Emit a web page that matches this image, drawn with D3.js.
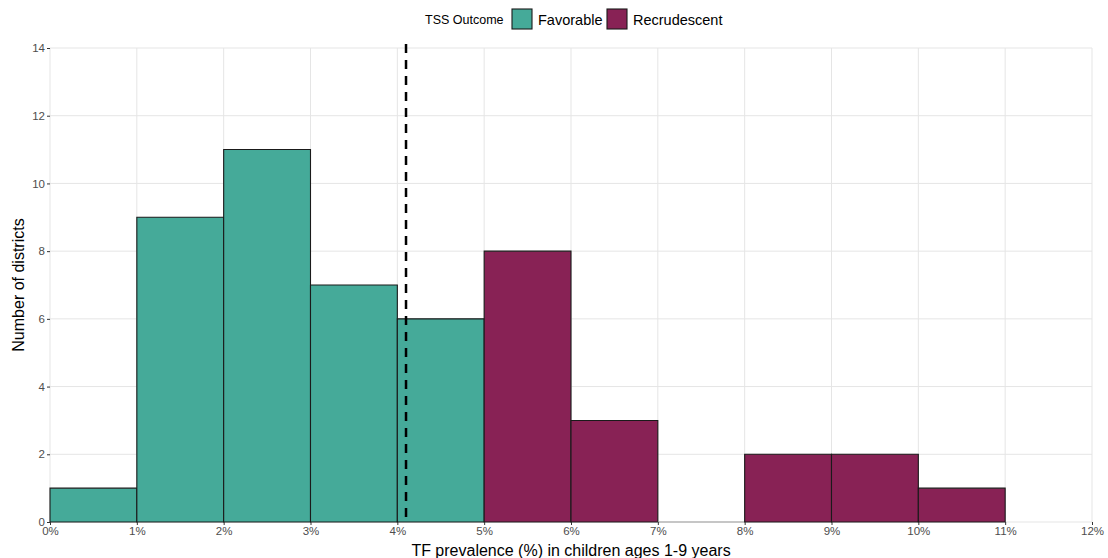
<!DOCTYPE html>
<html><head><meta charset="utf-8">
<script src="https://cdn.jsdelivr.net/npm/d3@7"></script>
<style>body{margin:0;background:#fff;font-family:Arial,"Liberation Sans",sans-serif;}</style>
</head><body>
<svg id="chart" width="1108" height="558"></svg>
<script>
const binStarts = [0,1,2,3,4,5,6,7,8,9,10];
const binCounts = [1,9,11,7,6,8,3,0,2,2,1];
const binOutcome = ["Favorable","Favorable","Favorable","Favorable","Favorable","Recrudescent","Recrudescent","Recrudescent","Recrudescent","Recrudescent","Recrudescent"];
const binWidth = 1;
const outcomes = ["Favorable","Recrudescent"];
const outcomeColors = ["#45AA99","#882255"];
const xTicks = [0,1,2,3,4,5,6,7,8,9,10,11,12];
const yTicks = [0,2,4,6,8,10,12,14];
const thresholdX = 4.1;

const svg = d3.select("#chart");
const m = {l:50, r:16, t:48, b:36};
const W = 1108, H = 558;
const x = d3.scaleLinear().domain([0,12]).range([m.l, W-m.r]);
const y = d3.scaleLinear().domain([0,14]).range([H-m.b, m.t]);
const color = d3.scaleOrdinal().domain(outcomes).range(outcomeColors);

// grid
svg.append("g").selectAll("line").data(xTicks).join("line")
  .attr("x1",d=>x(d)).attr("x2",d=>x(d)).attr("y1",y(0)).attr("y2",y(14))
  .attr("stroke","#e5e5e5").attr("stroke-width",1);
svg.append("g").selectAll("line").data(yTicks).join("line")
  .attr("x1",x(0)).attr("x2",x(12)).attr("y1",d=>y(d)).attr("y2",d=>y(d))
  .attr("stroke","#e5e5e5").attr("stroke-width",1);

// bars (paths so zero-height bins still draw their outline)
svg.append("g").selectAll("path").data(binStarts).join("path")
  .attr("d",(d,i)=>{
    const x0 = x(d), x1 = x(d+binWidth), y0 = y(0), y1 = y(binCounts[i]);
    return `M${x0},${y0}L${x0},${y1}L${x1},${y1}L${x1},${y0}Z`;
  })
  .attr("fill",(d,i)=>color(binOutcome[i]))
  .attr("stroke",(d,i)=>binCounts[i]===0 ? "#999" : "#1a1a1a").attr("stroke-width",1.1);

// threshold
svg.append("line").attr("x1",x(thresholdX)).attr("x2",x(thresholdX))
  .attr("y1",y(14)-4).attr("y2",y(0))
  .attr("stroke","#000").attr("stroke-width",2.5).attr("stroke-dasharray","9,7");

// axes
const xAxis = d3.axisBottom(x).tickValues(xTicks).tickFormat(d=>d+"%").tickSize(3).tickPadding(2);
const gx = svg.append("g").attr("transform",`translate(0,${y(0)})`).call(xAxis);
gx.select(".domain").remove();
gx.selectAll("line").attr("stroke","#333");
gx.selectAll("text").attr("fill","#4d4d4d").style("font-size","11.5px").style("font-family","Arial,'Liberation Sans',sans-serif");

const yAxis = d3.axisLeft(y).tickValues(yTicks).tickSize(3).tickPadding(2);
const gy = svg.append("g").attr("transform",`translate(${x(0)},0)`).call(yAxis);
gy.select(".domain").remove();
gy.selectAll("line").attr("stroke","#333");
gy.selectAll("text").attr("fill","#4d4d4d").style("font-size","11.5px").style("font-family","Arial,'Liberation Sans',sans-serif");

// titles
svg.append("text").attr("x",(x(0)+x(12))/2).attr("y",H-2).attr("text-anchor","middle")
  .style("font-size","16px").attr("fill","#000").text("TF prevalence (%) in children ages 1-9 years");
svg.append("text").attr("transform",`translate(24,${(y(0)+y(14))/2}) rotate(-90)`).attr("text-anchor","middle")
  .style("font-size","16px").attr("fill","#000").text("Number of districts");

// legend
const lg = svg.append("g");
lg.append("text").attr("x",425).attr("y",24).style("font-size","12.5px").attr("fill","#000").text("TSS Outcome");
const keyX = [512, 607];
outcomes.forEach((o,i)=>{
  lg.append("rect").attr("x",keyX[i]).attr("y",9).attr("width",20).attr("height",20)
    .attr("fill",color(o)).attr("stroke","#1a1a1a").attr("stroke-width",1.1);
  lg.append("text").attr("x",keyX[i]+26).attr("y",25).style("font-size","14.5px").attr("fill","#000").text(o);
});
</script>
</body></html>
